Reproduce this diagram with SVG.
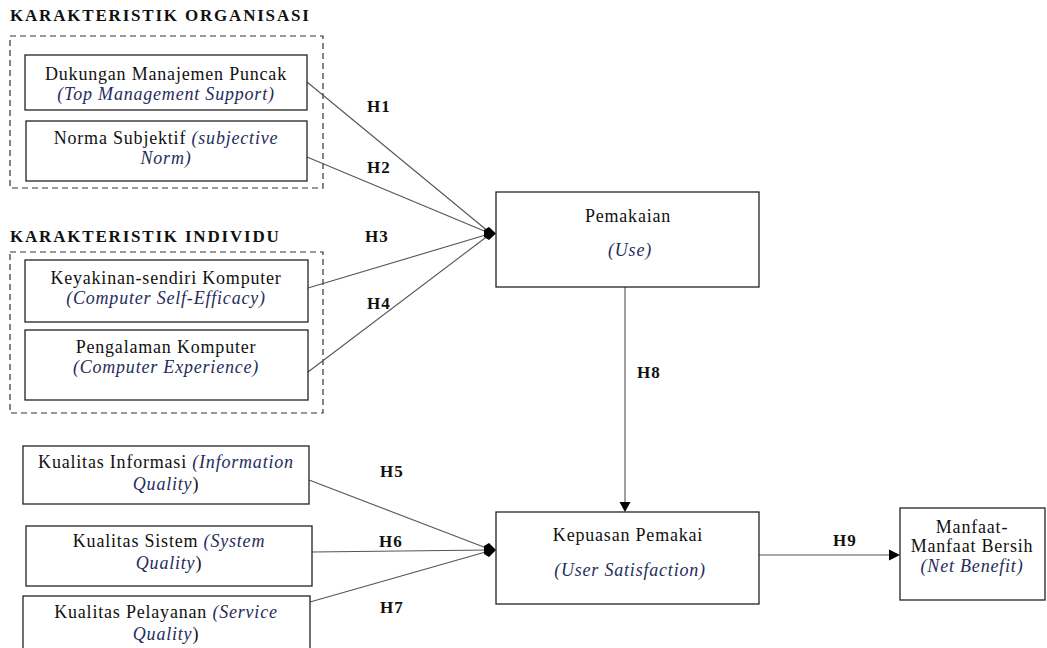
<svg xmlns="http://www.w3.org/2000/svg" width="1047" height="648" viewBox="0 0 1047 648">
<style>
text{font-family:"Liberation Serif","Times New Roman",serif;font-size:18px;letter-spacing:0.8px;fill:#111;text-anchor:middle}
.hd{font-weight:bold;font-size:17px;letter-spacing:1.8px;text-anchor:start}
.h{font-weight:bold;font-size:17px;letter-spacing:1px;text-anchor:start}
.it{font-style:italic;fill:#1f2d5c}
.box{fill:#fff;stroke:#222;stroke-width:1.3}
.grp{fill:none;stroke:#333;stroke-width:1.2;stroke-dasharray:6 4}
.ln{stroke:#555;stroke-width:1.1;fill:none}
.ah{fill:#000}
</style>
<rect width="1047" height="648" fill="#fff"/>
<g id="org-group">
<text class="hd" x="10" y="21">KARAKTERISTIK ORGANISASI</text>
<rect class="grp" x="10" y="36" width="313" height="152"/>
</g>
<g id="ind-group">
<text class="hd" x="10" y="242">KARAKTERISTIK INDIVIDU</text>
<rect class="grp" x="10" y="252" width="313" height="161"/>
</g>
<g id="connectors">
<line class="ln" x1="307" y1="82" x2="489" y2="232"/>
<line class="ln" x1="307" y1="157" x2="489" y2="233"/>
<line class="ln" x1="308" y1="288" x2="489" y2="234"/>
<line class="ln" x1="308" y1="372" x2="489" y2="235"/>
<polygon class="ah" points="484,230 489,227 496,233.5 489,240 484,237"/>
<line class="ln" x1="625" y1="287" x2="625" y2="503"/>
<polygon class="ah" points="619.5,502 630.5,502 625,512"/>
<line class="ln" x1="309" y1="480" x2="489" y2="549"/>
<line class="ln" x1="312" y1="552" x2="489" y2="550"/>
<line class="ln" x1="310" y1="602" x2="489" y2="551"/>
<polygon class="ah" points="484,546 489,543 496,550 489,557 484,554"/>
<line class="ln" x1="759" y1="555" x2="891" y2="555"/>
<polygon class="ah" points="889,549.5 889,560.5 900,555"/>
<text class="h" x="367" y="112">H1</text>
<text class="h" x="367" y="173">H2</text>
<text class="h" x="365" y="242">H3</text>
<text class="h" x="367" y="309">H4</text>
<text class="h" x="637" y="378">H8</text>
<text class="h" x="380" y="477">H5</text>
<text class="h" x="379" y="547">H6</text>
<text class="h" x="380" y="613">H7</text>
<text class="h" x="833" y="546">H9</text>
</g>
<g id="top-management">
<rect class="box" x="25" y="55" width="282" height="55"/>
<text x="166" y="80">Dukungan Manajemen Puncak</text>
<text class="it" x="166" y="100">(Top Management Support)</text>
</g>
<g id="subjective-norm">
<rect class="box" x="26" y="121" width="281" height="60"/>
<text x="166" y="144">Norma Subjektif <tspan class="it">(subjective</tspan></text>
<text class="it" x="166" y="164">Norm)</text>
</g>
<g id="self-efficacy">
<rect class="box" x="25" y="260" width="283" height="62"/>
<text x="166" y="284">Keyakinan-sendiri Komputer</text>
<text class="it" x="166" y="304">(Computer Self-Efficacy)</text>
</g>
<g id="experience">
<rect class="box" x="25" y="330" width="283" height="70"/>
<text x="166" y="353">Pengalaman Komputer</text>
<text class="it" x="166" y="373">(Computer Experience)</text>
</g>
<g id="info-quality">
<rect class="box" x="23" y="446" width="286" height="58"/>
<text x="166" y="468">Kualitas Informasi <tspan class="it">(Information</tspan></text>
<text x="166" y="490"><tspan class="it">Quality</tspan>)</text>
</g>
<g id="system-quality">
<rect class="box" x="26" y="526" width="286" height="60"/>
<text x="169" y="547">Kualitas Sistem <tspan class="it">(System</tspan></text>
<text x="169" y="569"><tspan class="it">Quality</tspan>)</text>
</g>
<g id="service-quality">
<rect class="box" x="23" y="596" width="287" height="60"/>
<text x="166" y="618">Kualitas Pelayanan <tspan class="it">(Service</tspan></text>
<text x="166" y="640"><tspan class="it">Quality</tspan>)</text>
</g>
<g id="use">
<rect class="box" x="496" y="192" width="263" height="95"/>
<text x="628" y="222">Pemakaian</text>
<text class="it" x="630" y="256">(Use)</text>
</g>
<g id="user-satisfaction">
<rect class="box" x="496" y="512" width="263" height="92"/>
<text x="628" y="541">Kepuasan Pemakai</text>
<text class="it" x="630" y="576">(User Satisfaction)</text>
</g>
<g id="net-benefit">
<rect class="box" x="900" y="508" width="145" height="92"/>
<text x="972" y="533">Manfaat-</text>
<text x="972" y="552">Manfaat Bersih</text>
<text class="it" x="972" y="572">(Net Benefit)</text>
</g>
</svg>
